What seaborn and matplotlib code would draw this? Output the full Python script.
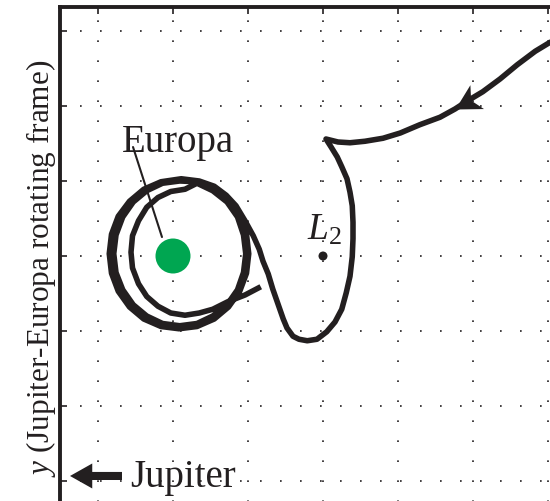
import numpy as np
import matplotlib
matplotlib.use("Agg")
import matplotlib.pyplot as plt
from matplotlib.markers import MarkerStyle
from matplotlib.path import Path
from matplotlib.transforms import Affine2D
import seaborn as sns

# trajectory in Europa-centred rotating frame, grid spacing = 1 unit
# incoming arm + excursion around L2
approach_x = [5.16, 4.83, 4.59, 4.36, 4.13, 3.93, 3.76, 3.56, 3.29, 3.03, 2.80, 2.56, 2.36, 2.20, 2.04,
              2.11, 2.19, 2.25, 2.32, 2.36, 2.39, 2.40, 2.40, 2.39, 2.36, 2.31, 2.25, 2.16, 2.05, 1.92,
              1.79, 1.68, 1.60, 1.52, 1.47, 1.40, 1.33, 1.27, 1.20, 1.15, 1.07, 0.96, 0.84, 0.71, 0.55,
              0.35, 0.11]
approach_y = [2.93, 2.73, 2.55, 2.36, 2.19, 2.07, 1.96, 1.85, 1.75, 1.64, 1.57, 1.53, 1.51, 1.52, 1.56,
              1.45, 1.32, 1.19, 1.03, 0.85, 0.67, 0.45, 0.23, -0.01, -0.27, -0.49, -0.71, -0.88, -1.01, -1.11,
              -1.13, -1.11, -1.07, -0.96, -0.84, -0.64, -0.44, -0.24, -0.07, 0.09, 0.27, 0.47, 0.67, 0.81, 0.93,
              1.00, 1.03]
# capture loops around Europa
orbit_x = [-0.16, -0.39, -0.58, -0.73, -0.82, -0.85, -0.82, -0.73, -0.58, -0.39, -0.16, 0.08, 0.32, 0.55,
           0.74, 0.89, 0.98, 1.01, 0.98, 0.89, 0.74, 0.55, 0.32,
           0.09, -0.14, -0.35, -0.53, -0.67, -0.76, -0.79, -0.76, -0.67, -0.53, -0.35, -0.14, 0.09, 0.32,
           0.53, 0.72, 0.86, 0.94, 0.97, 0.94, 0.86, 0.72, 0.53, 0.32,
           0.16, -0.03, -0.20, -0.35, -0.46, -0.54, -0.56, -0.54, -0.46, -0.35, -0.20, -0.03, 0.16, 0.35,
           0.53, 0.73, 0.96, 1.17]
orbit_y = [0.99, 0.89, 0.73, 0.53, 0.29, 0.03, -0.23, -0.47, -0.68, -0.84, -0.94, -0.97, -0.94, -0.84,
           -0.68, -0.47, -0.23, 0.03, 0.29, 0.53, 0.73, 0.89, 0.99,
           1.00, 0.97, 0.87, 0.72, 0.52, 0.28, 0.03, -0.22, -0.45, -0.65, -0.80, -0.90, -0.93, -0.90,
           -0.80, -0.65, -0.45, -0.22, 0.03, 0.28, 0.52, 0.72, 0.87, 0.97,
           0.89, 0.86, 0.78, 0.65, 0.47, 0.27, 0.05, -0.16, -0.37, -0.54, -0.67, -0.76, -0.79, -0.76,
           -0.71, -0.61, -0.52, -0.41]

europa_xy = (0.0, 0.0)
l2_xy = (2.0, 0.0)
grid_x = [-1, 0, 1, 2, 3, 4, 5]
grid_y = [-3, -2, -1, 0, 1, 2, 3]

ink = "#231f20"
green = "#00a651"

sns.set_style("white")
plt.rcParams["font.family"] = ["Liberation Serif", "DejaVu Serif"]
plt.rcParams["mathtext.fontset"] = "custom"
plt.rcParams["mathtext.rm"] = "Liberation Serif"
plt.rcParams["mathtext.it"] = "Liberation Serif:italic"

fig = plt.figure(figsize=(5.5, 5.02), dpi=100)
# axes runs past the right and bottom edges of the picture
ax = fig.add_axes([60 / 550, -0.1, 1.1 - 60 / 550, 1.1 - 8 / 502])

traj_x = approach_x + orbit_x
traj_y = approach_y + orbit_y
sns.lineplot(x=traj_x, y=traj_y, sort=False, estimator=None, color=ink, lw=4.0,
             solid_joinstyle="round", solid_capstyle="butt", ax=ax, zorder=4)

# direction arrowhead on the incoming arm
head = Path([(0, 0), (-1, 0.55), (-0.72, 0), (-1, -0.55), (0, 0)],
            [Path.MOVETO, Path.LINETO, Path.LINETO, Path.LINETO, Path.CLOSEPOLY])
ax.plot([approach_x[6]], [approach_y[6]], ls="none",
        marker=MarkerStyle(head, transform=Affine2D().rotate_deg(209.7)),
        ms=36, color=ink, mec="none", zorder=5)

sns.scatterplot(x=[europa_xy[0]], y=[europa_xy[1]], s=635, color=green, edgecolor="none",
                ax=ax, zorder=6)
sns.scatterplot(x=[l2_xy[0]], y=[l2_xy[1]], s=42, color=ink, edgecolor="none", ax=ax, zorder=6)

ax.text(-0.68, 1.40, "Europa", fontsize=28, color=ink, va="baseline", ha="left", zorder=7)
ax.plot([-0.533, -0.147], [1.453, 0.253], color=ink, lw=1.5, zorder=7)
ax.text(1.787, 0.227, "$L_2$", fontsize=27, color=ink, va="baseline", ha="left", zorder=7)

ax.annotate("", xy=(-1.373, -2.933), xytext=(-0.68, -2.933),
            arrowprops=dict(arrowstyle="simple,head_length=1.6,head_width=1.8,tail_width=0.58",
                            mutation_scale=10, color=ink, lw=0, shrinkA=0, shrinkB=0), zorder=7)
ax.text(-0.573, -3.067, "Jupiter", fontsize=28, color=ink, va="baseline", ha="left", zorder=7)

ax.set_xlim(-113 / 75, 5.76)
ax.set_ylim(-3.936, 249 / 75)
ax.set_xticks(grid_x)
ax.set_yticks(grid_y)
ax.xaxis.tick_top()
ax.tick_params(direction="in", length=5, width=1.2, color=ink,
               top=True, bottom=False, left=True, right=False,
               labeltop=False, labelbottom=False, labelleft=False)
ax.grid(True, color=ink, lw=1.2, linestyle=(0, (1, 11)))
for side in ["left", "top"]:
    ax.spines[side].set_linewidth(2.8)
    ax.spines[side].set_color(ink)

ax.set_ylabel("$y$ (Jupiter-Europa rotating frame)", fontsize=22.5, color=ink)
ax.yaxis.set_label_coords(-2 / 545, (552 - 268) / 544)

fig.savefig("out.png", dpi=100)
